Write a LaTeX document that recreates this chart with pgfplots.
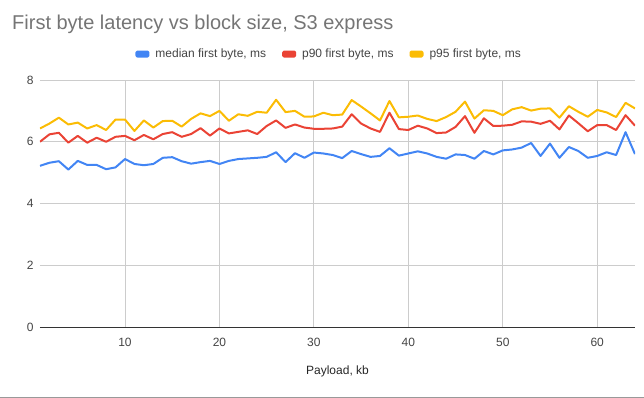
\documentclass[border=0pt]{standalone}
\usepackage{pgfplots}
\pgfplotsset{compat=1.18}
\usepackage{fontspec}
\setmainfont{Liberation Sans}
\definecolor{gblue}{HTML}{4285F4}
\definecolor{gred}{HTML}{EA4335}
\definecolor{gyellow}{HTML}{FBBC04}
\definecolor{ggrid}{HTML}{CCCCCC}
\definecolor{gtitle}{HTML}{757575}
\definecolor{gtick}{HTML}{444444}
\definecolor{gaxis}{HTML}{333333}
\pgfplotstableread{
x med p90 p95
1 5.22 6.00 6.43
2 5.32 6.24 6.59
3 5.37 6.29 6.78
4 5.10 5.97 6.56
5 5.38 6.19 6.62
6 5.25 5.97 6.43
7 5.25 6.13 6.54
8 5.11 6.00 6.38
9 5.17 6.16 6.72
10 5.44 6.19 6.72
11 5.28 6.05 6.35
12 5.24 6.22 6.69
13 5.28 6.08 6.46
14 5.48 6.25 6.67
15 5.50 6.31 6.68
16 5.37 6.16 6.49
17 5.29 6.25 6.74
18 5.34 6.44 6.92
19 5.38 6.20 6.83
20 5.28 6.43 7.00
21 5.38 6.27 6.68
22 5.44 6.32 6.89
23 5.46 6.37 6.84
24 5.48 6.25 6.97
25 5.51 6.51 6.94
26 5.66 6.69 7.36
27 5.34 6.45 6.96
28 5.63 6.56 7.00
29 5.48 6.46 6.81
30 5.65 6.42 6.82
31 5.62 6.42 6.94
32 5.57 6.43 6.86
33 5.47 6.49 6.88
34 5.70 6.89 7.35
35 5.60 6.59 7.14
36 5.51 6.43 6.92
37 5.54 6.32 6.69
38 5.79 6.94 7.32
39 5.55 6.41 6.79
40 5.62 6.38 6.81
41 5.69 6.52 6.85
42 5.62 6.43 6.74
43 5.51 6.28 6.67
44 5.45 6.30 6.80
45 5.59 6.48 6.97
46 5.57 6.83 7.30
47 5.45 6.29 6.75
48 5.70 6.76 7.02
49 5.59 6.51 7.00
50 5.72 6.52 6.86
51 5.75 6.55 7.05
52 5.81 6.66 7.12
53 5.96 6.65 7.01
54 5.54 6.58 7.07
55 5.94 6.68 7.08
56 5.48 6.40 6.78
57 5.83 6.85 7.15
58 5.70 6.60 6.97
59 5.48 6.34 6.81
60 5.54 6.54 7.03
61 5.66 6.54 6.95
62 5.57 6.38 6.80
63 6.31 6.86 7.26
64 5.60 6.52 7.08
}\data
\begin{document}
\begin{tikzpicture}
\path[use as bounding box] (0,0) rectangle (644bp,398bp);
\draw[black!40, line width=1bp] (0,0.5bp) -- (644bp,0.5bp);
\node[anchor=base west, font=\fontsize{20bp}{24bp}\selectfont, text=gtitle, inner sep=0pt] at (12bp,368bp) {First byte latency vs block size, S3 express};
\begin{axis}[
  at={(40bp,71bp)}, anchor=south west,
  width=595bp, height=247bp, scale only axis,
  xmin=1, xmax=64, ymin=0, ymax=8,
  xtick={10,20,30,40,50,60}, ytick={0,2,4,6,8},
  grid=major, major grid style={ggrid, line width=0.8bp},
  major tick length=0pt,
  axis y line*=left, y axis line style={draw=none},
  axis x line*=bottom, x axis line style={gaxis, line width=1bp, -},
  axis line style={-},
  /pgf/number format/assume math mode=true,
  ticklabel style={font=\fontsize{12bp}{14bp}\selectfont, text=gtick},
  yticklabel style={xshift=-3bp},
  xticklabel style={yshift=-8bp},
  xlabel={Payload, kb},
  xlabel style={font=\fontsize{12bp}{14bp}\selectfont, text=black!85, yshift=-12bp},
  legend columns=3,
  legend style={at={(0.486,1.105)}, anchor=center, draw=none, fill=none,
    font=\fontsize{12bp}{14bp}\selectfont, text=gtick,
    /tikz/every odd column/.append style={column sep=4bp},
    /tikz/every even column/.append style={column sep=14bp}},
  legend image code/.code={\fill[rounded corners=1bp] (0bp,-2.5bp) rectangle (12bp,2.5bp);},
  every axis plot/.append style={line width=2bp, line join=round, no markers},
]
\addplot[gblue] table[x=x, y=med] {\data};
\addlegendentry{median first byte, ms}
\addplot[gred] table[x=x, y=p90] {\data};
\addlegendentry{p90 first byte, ms}
\addplot[gyellow] table[x=x, y=p95] {\data};
\addlegendentry{p95 first byte, ms}
\end{axis}
\end{tikzpicture}
\end{document}
